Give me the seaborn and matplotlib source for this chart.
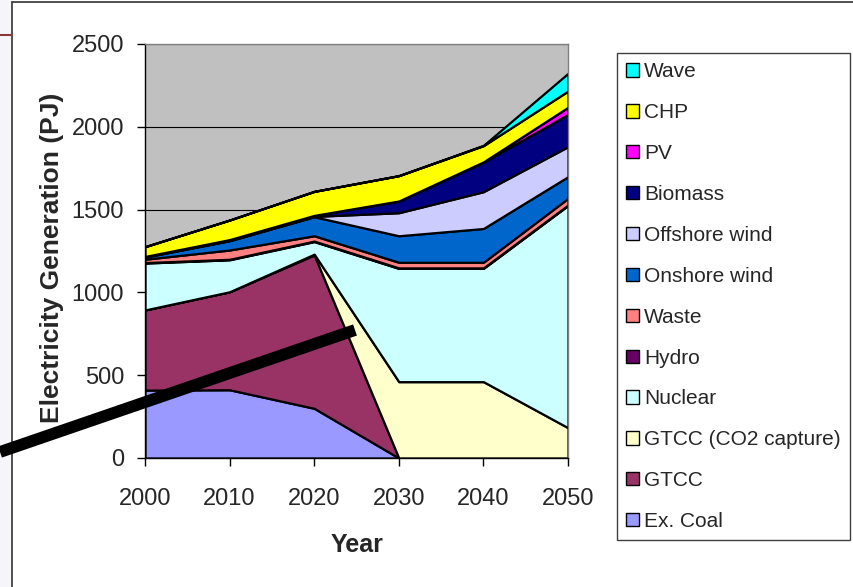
import matplotlib
matplotlib.use("Agg")
import matplotlib.pyplot as plt
import seaborn as sns
from matplotlib.patches import Patch, Rectangle
from matplotlib.lines import Line2D

# ---- data (PJ) ----
years = [2000, 2010, 2020, 2030, 2040, 2050]
ex_coal = [410, 412, 300, 0, 0, 0]
gtcc = [484, 592, 926, 0, 0, 0]
gtcc_ccs = [0, 0, 5, 461, 461, 183]
nuclear = [283, 193, 76, 684, 684, 1342]
hydro = [3, 3, 3, 3, 3, 3]
waste = [20, 56, 32, 34, 34, 40]
onshore_wind = [13, 56, 115, 160, 204, 131]
offshore_wind = [2, 2, 2, 139, 222, 181]
biomass = [2, 5, 6, 71, 178, 195]
pv = [0, 0, 0, 0, 2, 43]
chp = [59, 118, 145, 153, 98, 98]
wave = [0, 0, 0, 0, 2, 107]

series_names = ["Ex. Coal", "GTCC", "GTCC (CO2 capture)", "Nuclear", "Hydro",
                "Waste", "Onshore wind", "Offshore wind", "Biomass", "PV",
                "CHP", "Wave"]
series_values = [ex_coal, gtcc, gtcc_ccs, nuclear, hydro, waste, onshore_wind,
                 offshore_wind, biomass, pv, chp, wave]
series_colors = ["#9999FF", "#993366", "#FFFFCC", "#CCFFFF", "#660066",
                 "#FF8080", "#0066CC", "#CCCCFF", "#000080", "#FF00FF",
                 "#FFFF00", "#00FFFF"]
y_ticks = [0, 500, 1000, 1500, 2000, 2500]

sns.set_theme(style="white")
plt.rcParams['font.family'] = ['Liberation Sans', 'DejaVu Sans']

W, H = 854, 587
fig = plt.figure(figsize=(W / 100, H / 100), dpi=100)
fig.patch.set_facecolor("white")

# pale strip at left edge + frame
fig.add_artist(Rectangle((0, 0), 12 / W, 1, transform=fig.transFigure,
                         facecolor="#F6F6FA", edgecolor="none", zorder=0))
fig.add_artist(Line2D([12 / W, 12 / W], [0, 1 - 2 / H], transform=fig.transFigure,
                      color="#333333", lw=1.2))
fig.add_artist(Line2D([12 / W, 1], [1 - 2 / H, 1 - 2 / H], transform=fig.transFigure,
                      color="#333333", lw=1.2))
fig.add_artist(Line2D([0, 12 / W], [1 - 35 / H, 1 - 35 / H], transform=fig.transFigure,
                      color="#8B3A3A", lw=1.5))

ax = fig.add_axes([145 / W, 1 - 458 / H, (568 - 145) / W, (458 - 44) / H])
ax.set_facecolor("#C0C0C0")
ax.stackplot(years, *series_values, colors=series_colors,
             edgecolor="black", linewidth=1.6, zorder=2)
ax.set_xlim(years[0], years[-1])
ax.set_ylim(y_ticks[0], y_ticks[-1])
ax.set_xticks(years)
ax.set_yticks(y_ticks)
ax.yaxis.grid(True, color="black", lw=0.8, zorder=1)
ax.xaxis.grid(False)
ax.set_axisbelow(True)

for s in ["left", "bottom"]:
    ax.spines[s].set_color("black")
    ax.spines[s].set_linewidth(1.0)
for s in ["top", "right"]:
    ax.spines[s].set_color("#808080")
    ax.spines[s].set_linewidth(1.0)

ax.tick_params(axis="y", which="major", left=True, length=6, width=1,
               color="black", labelsize=17, pad=9, direction="out")
ax.tick_params(axis="x", which="major", bottom=True, length=6, width=1,
               color="black", labelsize=17, pad=15.5, direction="out")

fig.text(357 / W, 1 - 545 / H, "Year", ha="center", va="center",
         fontsize=18, fontweight="bold")
fig.text(52 / W, 1 - 258 / H, "Electricity Generation (PJ)", ha="center",
         va="center", rotation=90, fontsize=19, fontweight="bold")

handles = [Patch(facecolor=c, edgecolor="black", linewidth=1.0)
           for c in series_colors[::-1]]
leg = fig.legend(handles, series_names[::-1], loc="upper left",
                 bbox_to_anchor=(617 / W, 1 - 53 / H), frameon=True,
                 fancybox=False, edgecolor="#404040", framealpha=1,
                 fontsize=15, labelspacing=1.05, handlelength=0.6,
                 handleheight=0.6, handletextpad=0.25, borderpad=0.45,
                 borderaxespad=0)
leg.get_frame().set_linewidth(1.0)

# thick black annotation line
fig.add_artist(Line2D([0, 355 / W], [1 - 452 / H, 1 - 330 / H],
                      transform=fig.transFigure, color="black", lw=8.5,
                      solid_capstyle="butt", zorder=10))

fig.savefig("out.png", dpi=100)
